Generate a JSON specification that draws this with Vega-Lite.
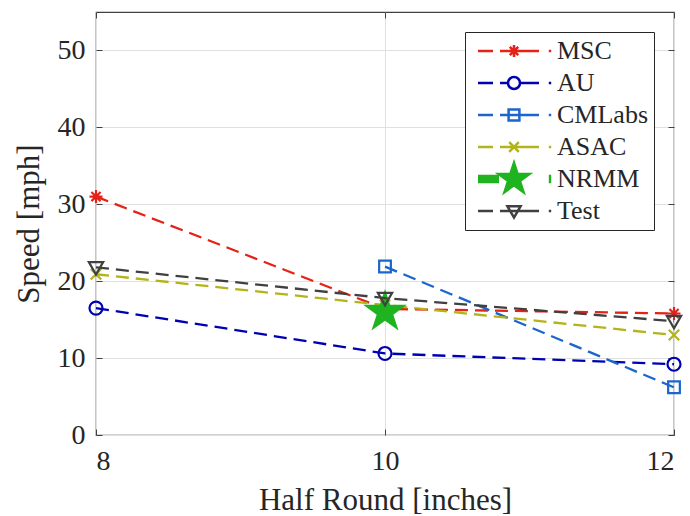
{
  "$schema": "https://vega.github.io/schema/vega-lite/v6.json",
  "width": 578,
  "height": 423,
  "autosize": "none",
  "padding": {"left": 96, "top": 12, "right": 16, "bottom": 81},
  "background": "white",
  "config": {
    "font": "Liberation Serif",
    "view": {"stroke": "#404040", "strokeWidth": 1.2},
    "axis": {
      "labelFont": "Liberation Serif",
      "titleFont": "Liberation Serif",
      "labelColor": "#262626",
      "titleColor": "#262626",
      "titleFontWeight": "normal",
      "domain": false,
      "tickColor": "#404040",
      "tickSize": -6,
      "gridColor": "#e0e0e0",
      "gridWidth": 1
    },
    "legend": {
      "labelFont": "Liberation Serif",
      "labelFontSize": 26,
      "labelColor": "#262626"
    }
  },
  "data": {
    "values": [
      {"series": "MSC", "x": 8, "y": 31},
      {"series": "MSC", "x": 10, "y": 16.4},
      {"series": "MSC", "x": 12, "y": 15.8},
      {"series": "AU", "x": 8, "y": 16.5},
      {"series": "AU", "x": 10, "y": 10.6},
      {"series": "AU", "x": 12, "y": 9.2},
      {"series": "CMLabs", "x": 10, "y": 21.9},
      {"series": "CMLabs", "x": 12, "y": 6.2},
      {"series": "ASAC", "x": 8, "y": 20.9},
      {"series": "ASAC", "x": 10, "y": 16.9},
      {"series": "ASAC", "x": 12, "y": 13},
      {"series": "NRMM", "x": 10, "y": 16},
      {"series": "Test", "x": 8, "y": 21.8},
      {"series": "Test", "x": 10, "y": 17.8},
      {"series": "Test", "x": 12, "y": 14.8}
    ]
  },
  "resolve": {
    "scale": {"color": "independent", "shape": "independent"},
    "axis": {"x": "independent", "y": "independent"}
  },
  "layer": [
    {
      "transform": [{"filter": {"field": "series", "oneOf": ["MSC", "AU", "CMLabs", "ASAC"]}}],
      "mark": {"type": "line", "strokeWidth": 2.3, "strokeDash": [13, 7]},
      "encoding": {
        "x": {"field": "x", "type": "quantitative", "scale": {"domain": [8, 12], "nice": false, "zero": false},
              "axis": {"values": [8, 10, 12], "title": "Half Round [inches]", "labelFont": "Liberation Serif", "titleFont": "Liberation Serif", "labelFontSize": 28, "titleFontSize": 31, "labelPadding": 18, "titlePadding": 10, "grid": true}},
        "y": {"field": "y", "type": "quantitative", "scale": {"domain": [0, 55], "nice": false},
              "axis": {"values": [0, 10, 20, 30, 40, 50], "title": "Speed [mph]", "labelFont": "Liberation Serif", "titleFont": "Liberation Serif", "labelFontSize": 28, "titleFontSize": 31, "labelPadding": 17, "titlePadding": 12, "grid": true}},
        "color": {"field": "series", "type": "nominal", "legend": null,
                  "scale": {"domain": ["MSC", "AU", "CMLabs", "ASAC"], "range": ["#e62117", "#0000b3", "#1a66cc", "#b3b31a"]}}
      }
    },
    {
      "transform": [{"filter": {"field": "series", "oneOf": ["MSC", "AU", "CMLabs", "ASAC"]}}],
      "mark": {"type": "point", "filled": false, "strokeWidth": 2.2, "size": 169, "opacity": 1},
      "encoding": {
        "x": {"field": "x", "type": "quantitative", "axis": null},
        "y": {"field": "y", "type": "quantitative", "axis": null},
        "color": {"field": "series", "type": "nominal", "legend": null,
                  "scale": {"domain": ["MSC", "AU", "CMLabs", "ASAC"], "range": ["#e62117", "#0000b3", "#1a66cc", "#b3b31a"]}},
        "shape": {"field": "series", "type": "nominal", "legend": null,
                  "scale": {"domain": ["MSC", "AU", "CMLabs", "ASAC"], "range": [
                    "M-1,0H1M0,-1V1M-0.7,-0.7L0.7,0.7M-0.7,0.7L0.7,-0.7",
                    "M-1,0A1,1 0 1,0 1,0A1,1 0 1,0 -1,0",
                    "M-0.9,-0.9H0.9V0.9H-0.9Z",
                    "M-0.8,-0.8L0.8,0.8M-0.8,0.8L0.8,-0.8"]}}
      }
    },
    {
      "transform": [{"filter": {"field": "series", "equal": "NRMM"}}],
      "mark": {"type": "point", "filled": true, "color": "#1fb31f", "opacity": 1, "size": 2116,
               "shape": "M0,-1L0.2245,-0.309L0.951,-0.309L0.363,0.118L0.588,0.809L0,0.382L-0.588,0.809L-0.363,0.118L-0.951,-0.309L-0.2245,-0.309Z"},
      "encoding": {
        "x": {"field": "x", "type": "quantitative", "axis": {"orient": "top", "values": [8, 10, 12], "labels": false, "title": null, "grid": false}},
        "y": {"field": "y", "type": "quantitative", "axis": {"orient": "right", "values": [0, 10, 20, 30, 40, 50], "labels": false, "title": null, "grid": false}}
      }
    },
    {
      "transform": [{"filter": {"field": "series", "equal": "Test"}}],
      "mark": {"type": "line", "strokeWidth": 2.3, "strokeDash": [13, 7], "color": "#404040"},
      "encoding": {
        "x": {"field": "x", "type": "quantitative", "axis": null},
        "y": {"field": "y", "type": "quantitative", "axis": null}
      }
    },
    {
      "transform": [{"filter": {"field": "series", "equal": "Test"}}],
      "mark": {"type": "point", "filled": false, "strokeWidth": 2.2, "size": 169, "opacity": 1, "color": "#404040",
               "shape": "M-1.1,-0.8H1.1L0,1.1Z"},
      "encoding": {
        "x": {"field": "x", "type": "quantitative", "axis": null},
        "y": {"field": "y", "type": "quantitative", "axis": null}
      }
    },
    {
      "transform": [{"filter": "false"}],
      "mark": {"type": "point", "filled": false, "strokeWidth": 2.5, "size": 144, "opacity": 1},
      "encoding": {
        "x": {"field": "x", "type": "quantitative", "axis": null},
        "y": {"field": "y", "type": "quantitative", "axis": null},
        "color": {"field": "series", "type": "nominal",
                  "scale": {"domain": ["MSC", "AU", "CMLabs", "ASAC", "NRMM", "Test"], "range": ["#e62117", "#0000b3", "#1a66cc", "#b3b31a", "#1fb31f", "#404040"]},
                  "legend": {"title": null, "orient": "top-right", "offset": 20, "padding": 6, "rowPadding": -11, "gridAlign": "all",
                             "labelOffset": 60, "symbolSize": 144, "symbolStrokeWidth": 2.5, "symbolOpacity": 1,
                             "labelFont": "Liberation Serif", "labelFontSize": 26, "labelColor": "#262626",
                             "strokeColor": "#262626", "fillColor": "white", "cornerRadius": 0}},
        "shape": {"field": "series", "type": "nominal",
                  "scale": {"domain": ["MSC", "AU", "CMLabs", "ASAC", "NRMM", "Test"], "range": [
                    "M-1,0H1.5M2.67,0H9.17M10.8,0H11.2M5,-1V1M4.3,-0.7L5.7,0.7M4.3,0.7L5.7,-0.7",
                    "M-1,0H1.5M2.67,0H4M6,0H9.17M10.8,0H11.2M4,0A1,1 0 1,0 6,0A1,1 0 1,0 4,0",
                    "M-1,0H1.5M2.67,0H9.17M10.8,0H11.2M4.1,-0.9H5.9V0.9H4.1Z",
                    "M-1,0H1.5M2.67,0H9.17M10.8,0H11.2M4.2,-0.8L5.8,0.8M4.2,0.8L5.8,-0.8",
                    "M-1,-0.5H2.5M-1,-0.25H2.5M-1,0H2.5M-1,0.25H2.5M-1,0.5H2.5M10.8,-0.5H11.2M10.8,-0.25H11.2M10.8,0H11.2M10.8,0.25H11.2M10.8,0.5H11.2M5,-2.7L5.606,-0.834L7.568,-0.834L5.980,0.319L6.588,2.184L5,1.031L3.412,2.184L4.020,0.319L2.432,-0.834L4.394,-0.834ZM5,-1.9L5.427,-0.587L6.807,-0.587L5.690,0.224L6.117,1.537L5,0.726L3.883,1.537L4.310,0.224L3.193,-0.587L4.573,-0.587ZM5,-1.2L5.269,-0.371L6.141,-0.371L5.436,0.142L5.706,0.971L5,0.458L4.294,0.971L4.564,0.142L3.859,-0.371L4.731,-0.371ZM5,-0.5L5.112,-0.155L5.476,-0.155L5.182,0.059L5.294,0.405L5,0.191L4.706,0.405L4.818,0.059L4.524,-0.155L4.888,-0.155Z",
                    "M-1,0H1.5M2.67,0H9.17M10.8,0H11.2M3.9,-0.8H6.1L5,1.1Z"]},
                  "legend": {"title": null}}
      }
    }
  ]
}
